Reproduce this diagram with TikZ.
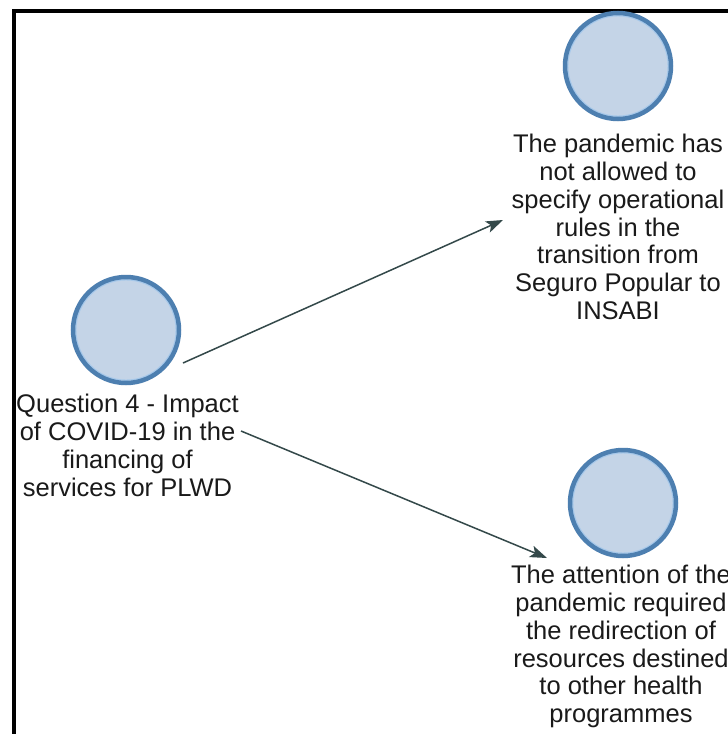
\documentclass[tikz,border=0pt]{standalone}
\usepackage{fontspec}
\setmainfont{Liberation Sans}
\usetikzlibrary{arrows.meta}
\definecolor{nodefill}{HTML}{C4D4E7}
\definecolor{noderim}{HTML}{4D7FB0}
\definecolor{innerrim}{HTML}{A6C8EA}
\definecolor{linkcol}{HTML}{34494A}
\definecolor{labelcol}{HTML}{1A1A1A}
\begin{document}
\begin{tikzpicture}[x=1pt,y=-1pt,
  codenode/.style={circle,draw=noderim,fill=nodefill,line width=4.5pt,
    minimum size=106pt,inner sep=0pt,
    path picture={\draw[innerrim,line width=1.3pt]
      (path picture bounding box.center) circle (50.2pt);}},
  codelabel/.style={anchor=north,align=center,inner sep=0pt,text=labelcol,
    font=\fontsize{25.5}{27.8}\selectfont},
  link/.style={draw=linkcol,line width=1.5pt,
    -{Stealth[length=17pt,width=12pt,inset=4pt]}}]
  \useasboundingbox (0,0) rectangle (728,734);
  \fill[white] (0,0) rectangle (728,734);
  % window frame (left and top edges only)
  \draw[black,line width=4pt] (13.5,734) -- (13.5,10.5) -- (728,10.5);
  % code nodes and their labels
  \node[codenode] (q4) at (126,330) {};
  \node[codelabel] (q4t) at (127.5,394) {Question 4 - Impact\\of COVID-19 in the\\financing of\\services for PLWD};
  \node[codenode] (ops) at (618,66) {};
  \node[codelabel] (opst) at (618,134) {The pandemic has\\not allowed to\\specify operational\\rules in the\\transition from\\Seguro Popular to\\INSABI};
  \node[codenode] (red) at (623,503) {};
  \node[codelabel] (redt) at (621,565) {The attention of the\\pandemic required\\the redirection of\\resources destined\\to other health\\programmes};
  % connectors
  \coordinate (s1) at (183,363);
  \coordinate (e1) at (503,220);
  \coordinate (s2) at (241,431);
  \coordinate (e2) at (547,558);
  \draw[link] (s1) -- (e1);
  \draw[link] (s2) -- (e2);
\end{tikzpicture}
\end{document}
